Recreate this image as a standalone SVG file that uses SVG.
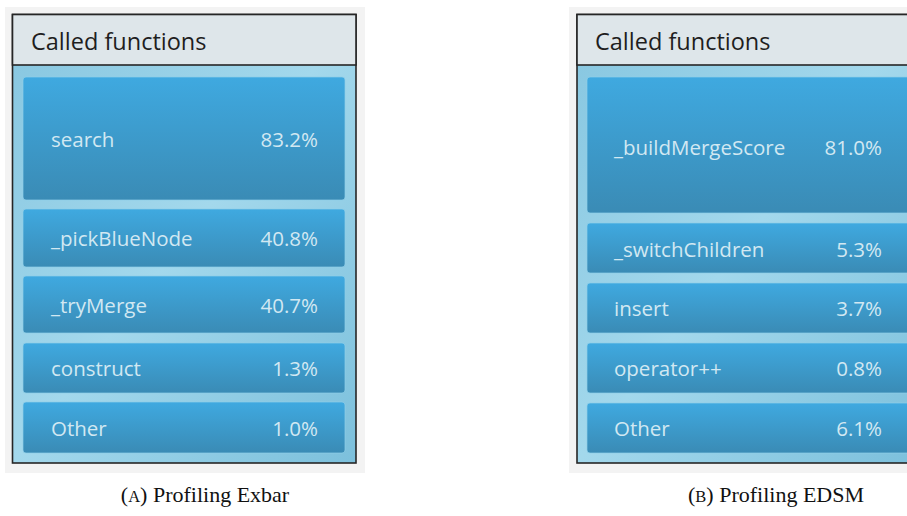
<svg xmlns="http://www.w3.org/2000/svg" width="907" height="516" viewBox="0 0 907 516">
<defs>
<linearGradient id="body" x1="0" y1="0" x2="1" y2="1">
<stop offset="0" stop-color="#86c6e0"/>
<stop offset="0.5" stop-color="#a3d8ec"/>
<stop offset="1" stop-color="#7cc0dc"/>
</linearGradient>
<linearGradient id="item" x1="0" y1="0" x2="0" y2="1">
<stop offset="0" stop-color="#3fa9e0"/>
<stop offset="1" stop-color="#3a8bb5"/>
</linearGradient>
<style>
.bg{fill:#f3f3f3}
.panel{fill:url(#body);stroke:#262626;stroke-width:1.6}
.hdr{fill:#dee6ea;stroke:#262626;stroke-width:1.6}
.it{fill:url(#item);stroke:#8fcfe8;stroke-width:1;stroke-opacity:0.7}
.ht{font-family:"Open Sans","Noto Sans",sans-serif;font-size:23.5px;fill:#1e1e1e}
.t{font-family:"Open Sans","Noto Sans",sans-serif;font-size:20.5px;fill:#d2e8f2}
.p{text-anchor:end}
.cap{font-family:"Liberation Serif",serif;font-size:22px;fill:#111;text-anchor:middle}
.sc{font-size:16.5px}
</style>
</defs>
<g id="left">
<rect class="bg" x="5" y="7" width="360" height="466"/>
<rect class="panel" x="12.5" y="14.5" width="343.5" height="448.5"/>
<rect class="hdr" x="12.5" y="14.5" width="343.5" height="50.5"/>
<text class="ht" x="31" y="50">Called functions</text>
<g id="l1"><rect class="it" x="23" y="77" width="322" height="123" rx="3"/><text class="t" x="51" y="147">search</text><text class="t p" x="318" y="147">83.2%</text></g>
<g id="l2"><rect class="it" x="23" y="209" width="322" height="58" rx="3"/><text class="t" x="51" y="246">_pickBlueNode</text><text class="t p" x="318" y="246">40.8%</text></g>
<g id="l3"><rect class="it" x="23" y="276" width="322" height="57" rx="3"/><text class="t" x="51" y="313">_tryMerge</text><text class="t p" x="318" y="313">40.7%</text></g>
<g id="l4"><rect class="it" x="23" y="343" width="322" height="50" rx="3"/><text class="t" x="51" y="376">construct</text><text class="t p" x="318" y="376">1.3%</text></g>
<g id="l5"><rect class="it" x="23" y="402" width="322" height="51" rx="3"/><text class="t" x="51" y="436">Other</text><text class="t p" x="318" y="436">1.0%</text></g>
</g>
<g id="right">
<rect class="bg" x="569" y="7" width="340" height="466"/>
<rect class="panel" x="577" y="14.5" width="340" height="448.5"/>
<rect class="hdr" x="577" y="14.5" width="340" height="50.5"/>
<text class="ht" x="595" y="50">Called functions</text>
<g id="r1"><rect class="it" x="587" y="77" width="330" height="136" rx="3"/><text class="t" x="614" y="155">_buildMergeScore</text><text class="t p" x="882" y="155">81.0%</text></g>
<g id="r2"><rect class="it" x="587" y="223" width="330" height="50" rx="3"/><text class="t" x="614" y="257">_switchChildren</text><text class="t p" x="882" y="257">5.3%</text></g>
<g id="r3"><rect class="it" x="587" y="283" width="330" height="50" rx="3"/><text class="t" x="614" y="316">insert</text><text class="t p" x="882" y="316">3.7%</text></g>
<g id="r4"><rect class="it" x="587" y="343" width="330" height="50" rx="3"/><text class="t" x="614" y="376">operator++</text><text class="t p" x="882" y="376">0.8%</text></g>
<g id="r5"><rect class="it" x="587" y="403" width="330" height="50" rx="3"/><text class="t" x="614" y="436">Other</text><text class="t p" x="882" y="436">6.1%</text></g>
</g>
<g id="captions">
<text class="cap" x="205" y="502">(<tspan class="sc">A</tspan>) Profiling Exbar</text>
<text class="cap" x="776" y="502">(<tspan class="sc">B</tspan>) Profiling EDSM</text>
</g>
</svg>
